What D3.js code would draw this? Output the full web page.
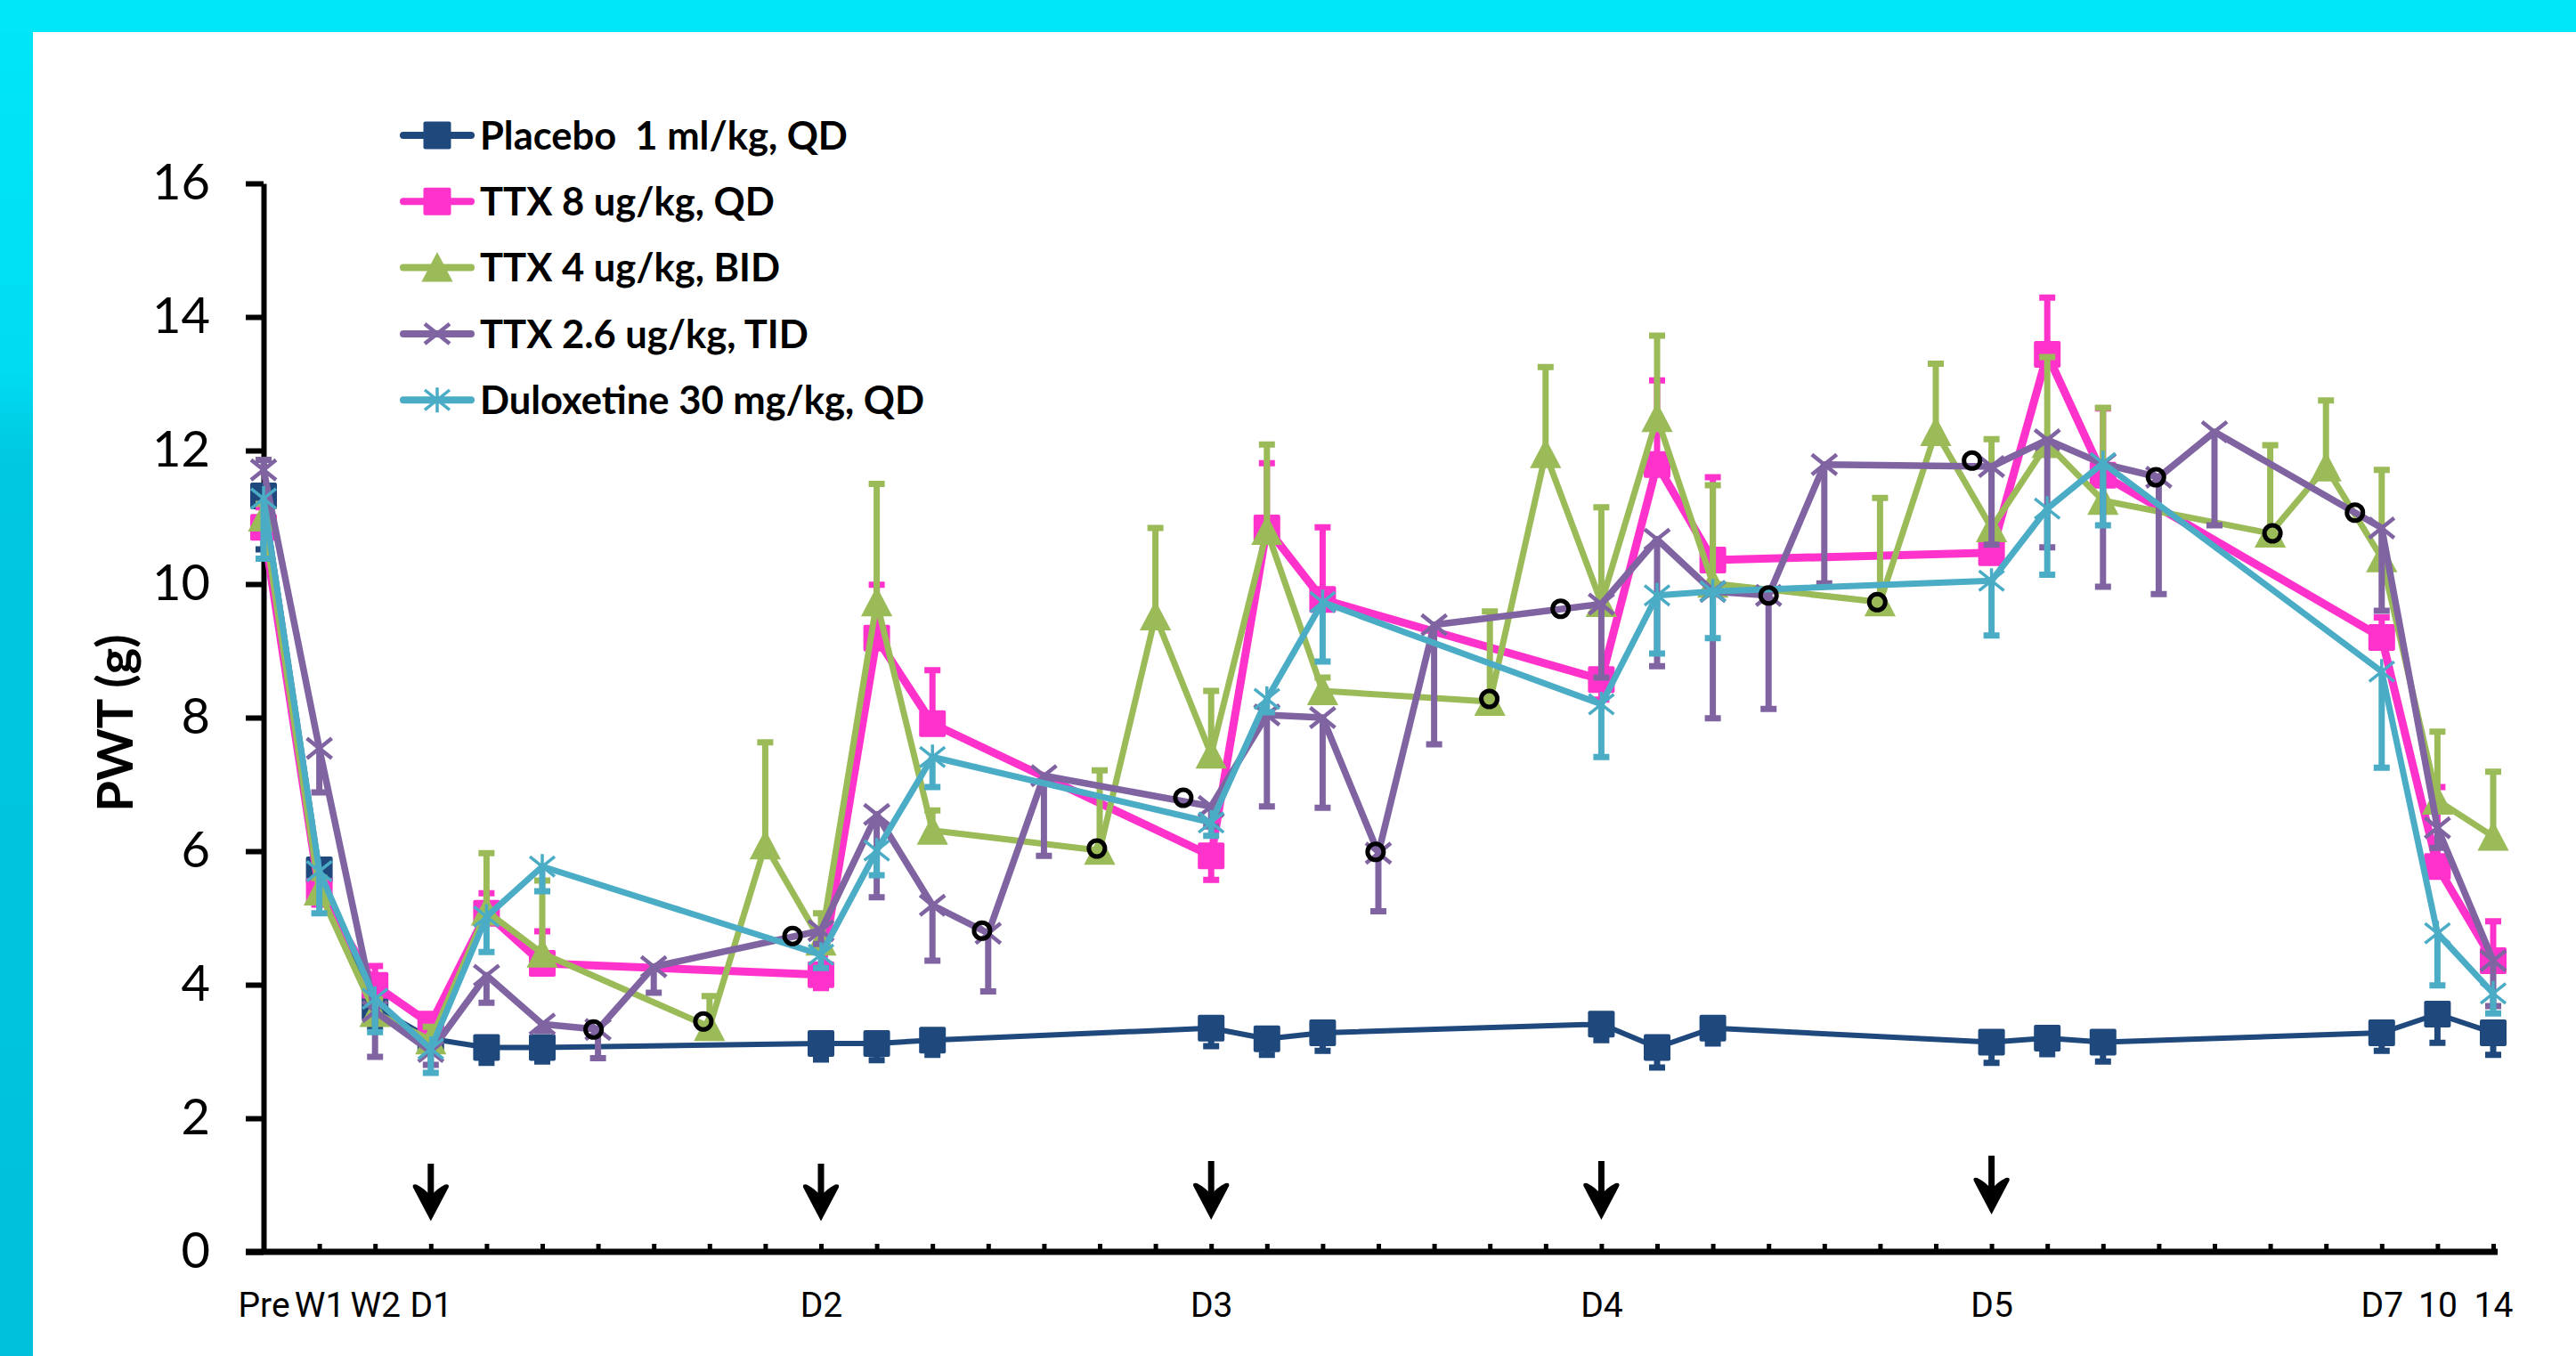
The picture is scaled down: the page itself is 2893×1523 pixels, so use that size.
<!DOCTYPE html>
<html>
<head>
<meta charset="utf-8">
<script src="https://cdn.jsdelivr.net/npm/d3@7"></script>
<style>
  body { margin: 0; background: #fff; }
  svg { display: block; }
</style>
</head>
<body>
<div id="chart"></div>
<script>
// x categories (index 0..40), only some carry a label
var tickLabels = ["Pre", "W1", "W2", "D1", "", "", "", "", "", "",
    "D2", "", "", "", "", "", "",
    "D3", "", "", "", "", "", "",
    "D4", "", "", "", "", "", "",
    "D5", "", "", "", "", "", "",
    "D7", "10", "14"];
var yTicks = [0, 2, 4, 6, 8, 10, 12, 14, 16];

// series values (null = no measurement at that time point)
var placebo = [11.32, 5.72, 3.67, 3.19, 3.06, 3.06, null, null, null, null,
    3.12, 3.12, 3.17, null, null, null, null,
    3.35, 3.19, 3.28, null, null, null, null,
    3.41, 3.06, 3.35, null, null, null, null,
    3.14, 3.2, 3.14, null, null, null, null,
    3.28, 3.56, 3.28];
var placeboErr = [-0.8, -0.3, -0.3, -0.2, -0.23, -0.21, null, null, null, null,
    -0.24, -0.25, -0.22, null, null, null, null,
    -0.27, -0.24, -0.27, null, null, null, null,
    -0.24, -0.3, -0.23, null, null, null, null,
    -0.31, -0.24, -0.29, null, null, null, null,
    -0.27, -0.43, -0.33];

var ttx8 = [10.85, 5.4, 3.99, 3.41, 5.07, 4.32, null, null, null, null,
    4.15, 9.19, 7.91, null, null, null, null,
    5.93, 10.84, 9.77, null, null, null, null,
    8.57, 11.79, 10.36, null, null, null, null,
    10.47, 13.44, 11.63, null, null, null, null,
    9.2, 5.77, 4.36];
var ttx8Err = [0.3, -0.2, 0.29, 0.1, 0.3, 0.48, null, null, null, null,
    -0.2, 0.8, 0.8, null, null, null, null,
    -0.36, 0.97, 1.08, null, null, null, null,
    -0.3, 1.26, 1.24, null, null, null, null,
    0.3, 0.85, 1.0, null, null, null, null,
    0.3, 1.19, 0.59];

var ttx4 = [11.0, 5.4, 3.58, 3.17, 5.1, 4.47, null, null,
    3.37, 6.09, 4.65, 9.73, 6.31, null, null,
    6.01, 9.52, 7.45, 10.8, 8.4, null, null,
    8.24, 11.95, 9.72, 12.49, 10.01, null, null,
    9.73, 12.28, 10.84, 12.1, 11.25, null, null,
    10.76, 11.75, 10.39, 6.76, 6.22];
var ttx4Err = [0.2, 0.2, 0.2, 0.2, 0.87, 1.09, null, null,
    0.46, 1.54, 0.42, 1.77, 0.3, null, null,
    1.2, 1.32, 0.95, 1.29, 0.2, null, null,
    1.35, 1.3, 1.43, 1.23, 1.47, null, null,
    1.56, 1.02, 1.33, 1.3, 1.39, null, null,
    1.32, 1.0, 1.32, 1.03, 0.97];

var ttx26 = [11.71, 7.54, 3.6, 3.0, 4.14, 3.41, 3.33, 4.27, null, null,
    4.81, 6.55, 5.19, 4.77, 7.13, null, null,
    6.67, 8.04, 8.0, 5.97, 9.39, null, null,
    9.7, 10.67, 9.89, 9.83, 11.79, null, null,
    11.76, 12.16, 11.8, 11.6, 12.28, null, null,
    10.84, 6.35, 4.36];
var ttx26Err = [0.15, -0.66, -0.68, -0.2, -0.41, -0.1, -0.43, -0.39, null, null,
    -0.2, -1.24, -0.83, -0.87, -1.2, null, null,
    -0.3, -1.37, -1.35, -0.87, -1.79, null, null,
    -1.1, -1.9, -1.9, -1.7, -1.78, null, null,
    -1.17, -1.61, -1.84, -1.75, -1.4, null, null,
    -1.24, -0.3, -0.68];

var dulox = [11.28, 5.7, 3.79, 3.04, 5.02, 5.77, null, null, null, null,
    4.45, 6.01, 7.41, null, null, null, null,
    6.43, 8.28, 9.73, null, null, null, null,
    8.2, 9.83, 9.89, null, null, null, null,
    10.05, 11.13, 11.81, null, null, null, null,
    8.69, 4.77, 3.87];
var duloxErr = [-0.9, -0.63, -0.5, -0.36, -0.53, -0.37, null, null, null, null,
    -0.2, -0.37, -0.45, null, null, null, null,
    -0.2, -0.2, -0.89, null, null, null, null,
    -0.79, -0.87, -0.7, null, null, null, null,
    -0.82, -0.99, -0.93, null, null, null, null,
    -1.44, -0.78, -0.3];

// open black circles (x as fractional category index)
var circleIdx = [5.92, 7.89, 9.49, 12.89, 14.95, 16.5, 19.95, 21.99, 23.27, 27.0, 28.95, 30.65, 33.95, 36.04, 37.52];
var circleVal = [3.33, 3.45, 4.73, 4.81, 6.04, 6.8, 5.99, 8.28, 9.63, 9.83, 9.73, 11.85, 11.6, 10.76, 11.07];

// dosing arrows
var arrowIdx = [3, 10, 17, 24, 31];
var arrowTop = [1.32, 1.32, 1.36, 1.36, 1.44];
var arrowTip = [0.46, 0.46, 0.48, 0.48, 0.56];

var names = ["Placebo  1 ml/kg, QD", "TTX 8 ug/kg, QD", "TTX 4 ug/kg, BID", "TTX 2.6 ug/kg, TID", "Duloxetine 30 mg/kg, QD"];

var series = [
    { name: names[0], values: placebo, err: placeboErr, color: "#1F497D", marker: "square", width: 6 },
    { name: names[1], values: ttx8, err: ttx8Err, color: "#FF33CC", marker: "square", width: 9 },
    { name: names[2], values: ttx4, err: ttx4Err, color: "#9BBB59", marker: "triangle", width: 7 },
    { name: names[3], values: ttx26, err: ttx26Err, color: "#8064A2", marker: "x", width: 7.5 },
    { name: names[4], values: dulox, err: duloxErr, color: "#4BACC6", marker: "star", width: 7 }
];

var W = 2893, H = 1523;
var font = "Lato, 'Open Sans', sans-serif";
var narrow = "'Liberation Sans Narrow', 'Arial Narrow', Roboto, sans-serif";

var svg = d3.select("#chart").append("svg")
    .attr("width", W)
    .attr("height", H);

// slide background: cyan frame on top and left
var defs = svg.append("defs");
var grad = defs.append("linearGradient")
    .attr("id", "leftband")
    .attr("x1", 0).attr("y1", 0).attr("x2", 0).attr("y2", 1);
grad.append("stop").attr("offset", "0").attr("stop-color", "#00E6F8");
grad.append("stop").attr("offset", "0.27").attr("stop-color", "#00DDF2");
grad.append("stop").attr("offset", "0.34").attr("stop-color", "#00C8E0");
grad.append("stop").attr("offset", "1").attr("stop-color", "#00C0DC");

svg.append("rect").attr("width", W).attr("height", H).attr("fill", "url(#leftband)");
svg.append("rect").attr("width", W).attr("height", 36).attr("fill", "#00E8F8");
svg.append("rect")
    .attr("x", 37).attr("y", 36)
    .attr("width", W - 37).attr("height", H - 36)
    .attr("fill", "#fff");

// scales
var x = d3.scaleLinear().domain([0, 40]).range([296, 2800]);
var y = d3.scaleLinear().domain([0, 16]).range([1406, 206]);

// y axis
var yAxis = svg.append("g")
    .attr("transform", "translate(" + x(0) + ",0)")
    .call(d3.axisLeft(y).tickValues(yTicks).tickSize(20).tickSizeOuter(0).tickPadding(40));
yAxis.select(".domain").attr("stroke", "#000").attr("stroke-width", 6);
yAxis.selectAll(".tick line").attr("stroke", "#000").attr("stroke-width", 6);
yAxis.selectAll(".tick text")
    .attr("font-family", font)
    .attr("font-size", 56)
    .attr("fill", "#000");

// x axis
var xAxis = svg.append("g")
    .attr("transform", "translate(0," + y(0) + ")")
    .call(d3.axisBottom(x)
        .tickValues(d3.range(tickLabels.length))
        .tickFormat(function (i) { return tickLabels[i]; })
        .tickSize(-9).tickSizeOuter(0).tickPadding(45));
xAxis.select(".domain")
    .attr("d", "M" + (x.range()[0] - 20) + ",0H" + (x.range()[1] + 5))
    .attr("stroke", "#000").attr("stroke-width", 7);
xAxis.selectAll(".tick line").attr("stroke", "#000").attr("stroke-width", 5);
xAxis.selectAll(".tick text")
    .attr("font-family", narrow)
    .attr("font-size", 39)
    .attr("fill", "#000");

// y axis label
svg.append("text")
    .attr("transform", "translate(127," + ((y(0) + y(16)) / 2 + 6) + ") rotate(-90)")
    .attr("text-anchor", "middle")
    .attr("dominant-baseline", "central")
    .attr("font-family", font)
    .attr("font-weight", "bold")
    .attr("font-size", 56)
    .text("PWT (g)");

// marker shapes
function drawMarker(g, type, color, s) {
    if (type === "square") {
        g.append("rect")
            .attr("x", -s / 2).attr("y", -s / 2)
            .attr("width", s).attr("height", s)
            .attr("rx", 2)
            .attr("fill", color);
    } else if (type === "triangle") {
        g.append("path")
            .attr("d", "M0," + (-s * 0.55) + "L" + (s * 0.55) + "," + (s * 0.5) + "L" + (-s * 0.55) + "," + (s * 0.5) + "Z")
            .attr("fill", color);
    } else if (type === "x") {
        var h = s * 0.5;
        g.append("path")
            .attr("d", "M" + (-h) + "," + (-h * 0.8) + "L" + h + "," + (h * 0.8) + "M" + (-h) + "," + (h * 0.8) + "L" + h + "," + (-h * 0.8))
            .attr("stroke", color).attr("stroke-width", 4.5).attr("fill", "none");
    } else if (type === "star") {
        var k = s * 0.5;
        g.append("path")
            .attr("d", "M" + (-k) + "," + (-k * 0.8) + "L" + k + "," + (k * 0.8) + "M" + (-k) + "," + (k * 0.8) + "L" + k + "," + (-k * 0.8) + "M0," + (-k) + "L0," + k)
            .attr("stroke", color).attr("stroke-width", 3.5).attr("fill", "none");
    }
}

var line = d3.line()
    .x(function (d) { return x(d.i); })
    .y(function (d) { return y(d.v); });

series.forEach(function (s) {
    var pts = [];
    s.values.forEach(function (v, i) {
        if (v !== null) pts.push({ i: i, v: v, e: s.err[i] });
    });
    var g = svg.append("g");

    // error bars
    pts.forEach(function (d) {
        if (d.e === null) return;
        var y1 = y(d.v), y2 = y(d.v + d.e);
        g.append("line")
            .attr("x1", x(d.i)).attr("x2", x(d.i))
            .attr("y1", y1).attr("y2", y2)
            .attr("stroke", s.color).attr("stroke-width", 7);
        g.append("rect")
            .attr("x", x(d.i) - 9).attr("y", y2 - 3.5)
            .attr("width", 18).attr("height", 7)
            .attr("fill", s.color);
    });

    // line
    g.append("path")
        .datum(pts)
        .attr("fill", "none")
        .attr("stroke", s.color)
        .attr("stroke-width", s.width)
        .attr("stroke-linejoin", "round")
        .attr("d", line);

    // markers
    pts.forEach(function (d) {
        var m = g.append("g").attr("transform", "translate(" + x(d.i) + "," + y(d.v) + ")");
        drawMarker(m, s.marker, s.color, s.marker === "square" ? 30 : (s.marker === "triangle" ? 32 : 28));
    });
});

// open circles
svg.append("g").selectAll("circle")
    .data(circleIdx)
    .enter().append("circle")
    .attr("cx", function (d) { return x(d); })
    .attr("cy", function (d, i) { return y(circleVal[i]); })
    .attr("r", 9)
    .attr("fill", "none")
    .attr("stroke", "#000")
    .attr("stroke-width", 5);

// arrows
arrowIdx.forEach(function (a, i) {
    var ax = x(a), top = y(arrowTop[i]), tip = y(arrowTip[i]);
    svg.append("line")
        .attr("x1", ax).attr("x2", ax)
        .attr("y1", top).attr("y2", tip - 25)
        .attr("stroke", "#000").attr("stroke-width", 7);
    svg.append("path")
        .attr("transform", "translate(" + ax + "," + tip + ")")
        .attr("d", "M0,0L-20,-38Q-21,-42,-16,-41Q-6,-36,0,-28Q6,-36,16,-41Q21,-42,20,-38Z")
        .attr("fill", "#000");
});

// legend
var legend = svg.append("g").attr("transform", "translate(449,152)");
series.forEach(function (s, i) {
    var row = legend.append("g").attr("transform", "translate(0," + (i * 74.3) + ")");
    row.append("line")
        .attr("x1", 4).attr("x2", 80)
        .attr("stroke", s.color)
        .attr("stroke-width", 8)
        .attr("stroke-linecap", "round");
    var m = row.append("g").attr("transform", "translate(42,0)");
    drawMarker(m, s.marker, s.color, s.marker === "square" ? 31 : (s.marker === "triangle" ? 32 : 28));
    row.append("text")
        .attr("x", 90)
        .attr("dy", "0.36em")
        .attr("font-family", font)
        .attr("font-weight", "bold")
        .attr("font-size", 43.5)
        .style("white-space", "pre")
        .text(s.name);
});
</script>
</body>
</html>
